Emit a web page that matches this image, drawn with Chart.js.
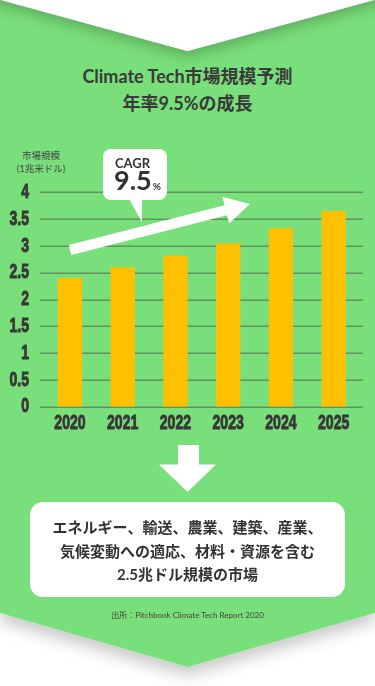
<!DOCTYPE html>
<html lang="ja">
<head>
  <meta charset="UTF-8" />
  <meta name="viewport" content="width=device-width, initial-scale=1.0" />
  <title>Climate Tech市場規模予測</title>
  <script src="https://cdn.jsdelivr.net/npm/chart.js"></script>
  <style>
    body { margin: 0; background: #fff; }
    #wrap { position: relative; width: 375px; height: 686px; overflow: hidden; background: #fff;
            font-family: Lato, "Noto Sans CJK JP", sans-serif; color: #333; }
    #wrap > * { position: absolute; }
    .center { left: 0; width: 375px; text-align: center; }
    #title { top: 63px; font-size: 18px; line-height: 27px; font-weight: 700; color: #3a3a3a; }
    #unit { top: 149px; left: 0; width: 82px; text-align: center; font-size: 9.5px; line-height: 13px; color: #444; }
    #cagrLabel { left: 115px; top: 156px; font-size: 13px; line-height: 15px; font-weight: 700; color: #333; }
    #cagrValue { left: 114px; top: 166px; font-size: 27px; line-height: 27px; font-weight: 700; color: #333; }
    #cagrValue small { font-size: 10px; font-weight: 700; margin-left: 1px; }
    #note { top: 516px; font-size: 15px; line-height: 23.5px; font-weight: 700; color: #333; }
    #source { top: 610px; font-size: 8px; line-height: 10px; color: #444; }
  </style>
</head>
<body>
<div id="wrap">
  <!-- background shape -->
  <svg width="375" height="686" style="left:0;top:0">
    <defs>
      <filter id="drop" x="-20%" y="-20%" width="140%" height="150%">
        <feDropShadow dx="0" dy="8" stdDeviation="8" flood-color="#000" flood-opacity="0.22"/>
      </filter>
      <filter id="notch" x="-20%" y="-50%" width="140%" height="250%">
        <feDropShadow dx="0" dy="6" stdDeviation="7" flood-color="#000" flood-opacity="0.22"/>
      </filter>
    </defs>
    <polygon points="0,0 187.5,51 375,0 375,613 187.5,667 0,613" fill="#79df7a" filter="url(#drop)"/>
    <polygon points="-20,-6 187.5,51 395,-6 395,-30 -20,-30" fill="#fff" filter="url(#notch)"/>
  </svg>

  <div id="title" class="center">Climate Tech市場規模予測<br>年率9.5%の成長</div>
  <div id="unit">市場規模<br>(1兆米ドル)</div>

  <canvas id="chart" width="375" height="686" style="left:0;top:0"></canvas>

  <!-- overlays: trend arrow, callout, down arrow, note box -->
  <svg width="375" height="686" style="left:0;top:0">
    <g transform="translate(70,250) rotate(-14.34)">
      <polygon points="0,-5.2 160.8,-5.2 160.8,-13.8 185.8,0 160.8,13.8 160.8,5.2 0,5.2" fill="#fff"/>
    </g>
    <rect x="103" y="149" width="64" height="51" rx="8" fill="#fff"/>
    <polygon points="129,199 142,199 142,222" fill="#fff"/>
    <polygon points="178,445 199,445 199,464.5 216,464.5 187.5,492 159,464.5 178,464.5" fill="#fff"/>
    <rect x="30" y="502" width="315" height="95" rx="13" fill="#fff"/>
  </svg>

  <div id="cagrLabel">CAGR</div>
  <div id="cagrValue">9.5<small>%</small></div>
  <div id="note" class="center">エネルギー、輸送、農業、建築、産業、<br>気候変動への適応、材料・資源を含む<br>2.5兆ドル規模の市場</div>
  <div id="source" class="center">出所：Pitchbook Climate Tech Report 2020</div>
</div>

<script>
  // data (trillion USD)
  const years = ['2020', '2021', '2022', '2023', '2024', '2025'];
  const marketSize = [2.4, 2.6, 2.82, 3.05, 3.33, 3.65];
  const yMin = 0;
  const yMax = 4;
  const yStep = 0.5;

  const tickFont = { family: "'Liberation Sans', Arial, sans-serif", size: 21, weight: 'bold' };

  // no condensed face is installed, so squeeze the tick labels sideways
  // around their anchor point (alignment is kept) and thicken them a bit
  function narrowLabels(scale) {
    if (scale._narrow) return;
    scale._narrow = true;
    const draw = scale.drawLabels;
    scale.drawLabels = function (area) {
      const ctx = this.ctx;
      const fill = ctx.fillText;
      ctx.fillText = function (text, x, y) {
        ctx.save();
        ctx.translate(x, y);
        ctx.scale(0.67, 1);
        fill.call(ctx, text, 0, 0);
        ctx.strokeStyle = ctx.fillStyle;
        ctx.lineWidth = 1;
        ctx.strokeText(text, 0, 0);
        ctx.restore();
      };
      draw.call(this, area);
      delete ctx.fillText;
    };
  }

  // horizontal lines drawn a little wider than the plot area
  const gridPlugin = {
    id: 'wideGrid',
    beforeDatasetsDraw(chart) {
      const { ctx, chartArea, scales } = chart;
      ctx.save();
      ctx.strokeStyle = '#5f925f';
      ctx.lineWidth = 1.5;
      scales.y.ticks.forEach(t => {
        const y = Math.round(scales.y.getPixelForValue(t.value)) + 0.25;
        ctx.beginPath();
        ctx.moveTo(chartArea.left - 3.6, y);
        ctx.lineTo(chartArea.right + 3, y);
        ctx.stroke();
      });
      ctx.restore();
    }
  };

  new Chart(document.getElementById('chart'), {
    type: 'bar',
    data: {
      labels: years,
      datasets: [{
        data: marketSize,
        backgroundColor: '#ffc000',
        categoryPercentage: 1,
        barPercentage: 0.46
      }]
    },
    options: {
      responsive: false,
      animation: false,
      devicePixelRatio: 1,
      layout: { padding: { top: 192.3, bottom: 239.3, left: 0, right: 15 } },
      plugins: { legend: { display: false }, tooltip: { enabled: false } },
      scales: {
        x: {
          grid: { display: false, drawTicks: false, tickLength: 0 },
          border: { display: false },
          ticks: { color: '#383838', font: tickFont, padding: 4, maxRotation: 0, autoSkip: false },
          afterFit(scale) { scale.height = 40; narrowLabels(scale); }
        },
        y: {
          min: yMin,
          max: yMax,
          grid: { display: false, drawTicks: false, tickLength: 0 },
          border: { display: false },
          ticks: { stepSize: yStep, color: '#383838', font: tickFont, padding: 14.6, autoSkip: false,
                   callback: v => String(v) },
          afterFit(scale) { scale.width = 43.6; narrowLabels(scale); }
        }
      }
    },
    plugins: [gridPlugin]
  });
</script>
</body>
</html>
